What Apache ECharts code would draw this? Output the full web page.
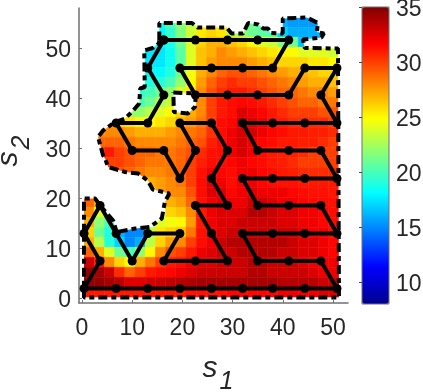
<!DOCTYPE html>
<html>
<head>
<meta charset="utf-8">
<style>html,body{margin:0;padding:0;background:#fff}#main{width:423px;height:392px}</style>
<script src="https://cdn.jsdelivr.net/npm/echarts@6/dist/echarts.min.js"></script>
</head>
<body>
<div id="main"></div>
<script>
var n = null;
// cell centres
var s1Values = [1.42,3.45,5.48,7.51,9.54,11.58,13.61,15.64,17.67,19.7,21.74,23.77,25.8,27.83,29.86,31.9,33.93,35.96,37.99,40.02,42.06,44.09,46.12,48.15,50.18];
var s2Values = [55.14,53.14,51.14,49.14,47.14,45.14,43.14,41.14,39.14,37.14,35.14,33.14,31.14,29.14,27.14,25.14,23.14,21.14,19.14,17.14,15.14,13.14,11.14,9.14,7.14,5.14,3.14,1.14];
// one row per s2 value, top first
var zRows = [
[n,n,n,n,n,n,n,18.5,20,22,23,24,n,n,n,n,21,20.5,n,16,15.5,15.5,15.5,n,n],
[n,n,n,n,n,n,n,18,19.5,21.5,23.5,25.5,26,25.5,23,22,21,20.5,20,17,16,16,16,16,n],
[n,n,n,n,n,n,17.5,18,18.8,21,24,26,27,27,26.5,26,25,24,23.5,21.5,21,16.5,16.5,16.5,n],
[n,n,n,n,n,n,17.5,17.5,18.5,20.5,24,26.5,27,28,27.5,27,26.5,26,25.5,25,25,24,24,24,23.5],
[n,n,n,n,n,n,17.5,17.5,18.5,20.5,24,26.5,27.5,28,28,28,27.5,27,26.5,26,26,26,25.5,25.5,25],
[n,n,n,n,n,n,18,18,19,21,24.5,27,28,29,29.5,29.5,29,28.5,28,27.5,27,27,26.5,26,26],
[n,n,n,n,n,n,19,19,20,22,25,27.5,29,30,30.5,30,30,29.5,29,28.5,28,27.5,27,27,26.5],
[n,n,n,n,n,19.5,20,21,22,24,25.5,28,29.5,30.5,31,31,30.5,30,29.5,29,29,28.5,28,28,27.5],
[n,n,n,n,n,20,21,22.5,23.5,n,n,28,30,31,31.3,31.5,31.3,31,30.5,30,29.5,29,29,28.5,28.5],
[n,n,n,n,22,22,23,24,25,26,27,28,30,31,31.3,32.5,32,31.5,31,30.5,30,30,30,29.5,29.5],
[n,n,27,26,25.5,25,25,25.5,26,27,27.5,28.5,30,31.3,31.5,33,32.5,32,31.3,31,30.5,30.5,30.5,30.5,30],
[n,28,28,28,27.5,27,27,27,27.5,28,28.5,29,30.3,31.3,32,32.7,32.7,32,31.5,31.3,31,31,30.8,30.8,30.5],
[n,29,29,29,28.5,28,28,28,28,28.5,29,29.5,30.8,31.3,32,32.7,32,31.5,31.3,31,31,30.8,30.8,30.5,30],
[n,30,31,30,29.5,29,29,28.5,28.5,29,29.5,30.5,31.2,31.3,32,32.7,32,31.3,31,30.8,30.8,30.5,30,30,30],
[n,n,30,30,29.5,29,28.5,28.5,28.5,29,30,30.8,31.3,31.3,31.5,32,31.5,31.3,31,30.8,30.5,30,30,30,30],
[n,n,30,29.5,29,28.5,28,28,28.5,29,30,31.2,32,31.5,31.3,32,32,31.5,31.3,31,30.8,30.5,30.5,30.5,30.5],
[n,n,n,n,n,n,27,27.5,28,28.5,30,31.3,32.5,32,31.3,32,32,31.5,31.3,31.2,31.2,31,31,31,31],
[n,n,n,n,n,n,n,27.5,28,28,29.5,31.3,32.5,32.5,31.5,32,32.5,32,32,32,31.5,31.3,31.2,31.2,31],
[29,27,n,n,n,n,n,n,27,27.5,29,31.2,32,32.5,32,32,33,33,32.5,32,32,31.5,31.3,31.3,31.2],
[28,24,23,n,n,n,n,n,26,26.5,28,31,32,32.5,32.5,32.5,33.6,33.6,33,32.5,32.5,32,32,31.5,31.3],
[27,22,20,18,n,n,n,24,24.5,25,27.5,31,32,32.5,32.5,33,33,33,33,32.5,32.5,32,32,31.5,31.3],
[26,21,19,16,15,15,23,25.5,26,26.5,28.5,31.2,32,32.5,33,33,33,33,33,33,33,32.5,32,32,31.3],
[27,23,19,17,15,16,23,26,27.5,28,30,31.3,32,33,33.6,33.6,33.6,33.6,33.6,33.6,33,32.5,32.5,32,31.5],
[29,27,24,21,20,22,25,28,29.5,30,31,32,32.5,33,33,33.6,33.6,33.6,33.6,33,33,32.5,32.5,32,31.5],
[33,31,28,26,25,27,28.5,30,31,31.3,32,32.5,32.5,33,33,33,33.6,33.6,33,33,33,32.5,32,32,32],
[34.5,34,33,30.5,29,30,31,31.3,31.5,32,32.5,33,33,33,33,33,33.6,33.6,33,33,33,33,32.5,32,32],
[34.5,34.5,34,33.5,32.5,32.5,32.7,33,33.3,33.5,33.8,34,34,34,34,34,34,34,34,33.6,33.5,33.5,33.5,33,33],
[31,31,31,31,31,31,31,31,31,31,31.2,31.2,31.2,31.2,31.5,31.5,31.5,31.5,31.5,32,32,32,32,32.5,32.5]
];
var pathPoints = [
[16.3,51.6],[22.6,51.6],[29,51.6],[35,51.6],[41.2,51.6],[38,46],[32,46],[25.8,46],[19.5,46],
[22.6,40.6],[29,40.6],[35,40.6],[41.2,40.6],[44.4,46],[50.8,46],[47.6,40.6],[50.8,35],[44.4,35],[38,35],[32,35],
[35,29.5],[41.2,29.5],[47.6,29.5],[50.8,23.9],[44.4,23.9],[38,23.9],[32,23.9],
[35,18.5],[41.2,18.5],[47.6,18.5],[50.8,12.9],[44.4,12.9],[38,12.9],[32,12.9],
[35,7.4],[41.2,7.4],[47.6,7.4],[50.8,1.9],[44.4,1.9],[38,1.9],[32,1.9],[25.8,1.9],[19.5,1.9],[13.1,1.9],[6.8,1.9],[0.4,1.9],
[3.6,7.4],[0.4,12.9],[3.6,18.5],[6.8,12.9],[10,7.4],[13.1,12.9],[19.5,12.9],[16.3,7.4],[22.6,7.4],[29,7.4],[25.8,12.9],[22.6,18.5],[29,18.5],[25.8,23.9],[29,29.5],[25.8,35],[19.5,35],[22.6,29.5],[19.5,23.9],[16.3,29.5],[10,29.5],[6.8,35],[13.1,35],[16.3,40.6],[13.1,46],[16.3,51.6]
];
var outline = [
[15.4,51.5],[15.4,55],[21.9,55],[23,54.1],[28.8,54.1],[29.8,52.9],[32.1,52.9],[33.1,55],[35.1,54.7],[36.1,53.9],[37.1,53.9],[37.5,53],[40,52.9],[40,55.9],[44.8,56.1],[47,55],[46.8,53.2],[48.2,52.9],[47.7,52.1],[44,51.7],[44.4,50],[51,49.9],[51.2,0.1],[0.4,0.1],[0.4,19.9],[2.6,19.9],[3.6,18.5],[6.2,15.5],[6.9,13.2],[10.6,13.9],[13.5,14.2],[15.9,15.9],[16.5,19.2],[17.4,20.9],[14.1,21.7],[13.1,23.5],[11.2,24.9],[8.6,25.2],[5.2,26.2],[4.6,27.9],[4.2,28.5],[3.2,32.2],[4.2,33.5],[6.6,35.2],[8.6,35.9],[10.2,37.5],[11.4,38.9],[11.6,41.9],[12.5,42.2],[12.4,49.5],[14.1,50],[15.3,50.9],[15.4,51.5]
];
var holeOutline = [[18.2,41.1],[22.7,40.9],[22.5,38.2],[21.1,36.9],[18.3,37.2],[18.2,41.1]];
var s1Ticks = [0,10,20,30,40,50];
var s2Ticks = [0,10,20,30,40,50];
var barTicks = [10,15,20,25,30,35];
var jet = ['#00008f','#0000ff','#0080ff','#00ffff','#80ff80','#ffff00','#ff8000','#ff0000','#800000'];

var cells = [];
zRows.forEach(function (row, j) {
	row.forEach(function (z, i) {
		if (z !== null) cells.push([s1Values[i], s2Values[j], z]);
	});
});

var fontName = 'Liberation Sans';
var textColor = '#262626';
var axisColor = '#707070';
var nameStyle = {
	padding: [0, 0, 0, 9],
	rich: {
		a: { fontFamily: fontName, fontStyle: 'italic', fontSize: 30, color: textColor },
		b: { fontFamily: fontName, fontStyle: 'italic', fontSize: 25, color: textColor, padding: [27, 0, 0, 2] }
	}
};

function lineSeries(data, style, symbolSize) {
	return {
		type: 'line', data: data, silent: true, animation: false,
		symbol: symbolSize ? 'circle' : 'none', symbolSize: symbolSize, showSymbol: !!symbolSize,
		itemStyle: { color: '#000' }, lineStyle: style, z: symbolSize ? 5 : 4, clip: false
	};
}

var chart = echarts.init(document.getElementById('main'), null, { renderer: 'canvas' });
chart.setOption({
	animation: false,
	backgroundColor: '#fff',
	grid: [
		{ left: 79, top: 8, width: 269, height: 295, outerBoundsMode: 'none' },
		{ left: 362, top: 7, width: 27, height: 297, outerBoundsMode: 'none', show: true, borderColor: axisColor, borderWidth: 1, backgroundColor: 'transparent', z: 10 }
	],
	xAxis: [{
		type: 'value', min: -0.6, max: 53,
		name: '{a|s}{b|1}', nameLocation: 'middle', nameGap: 40,
		nameTextStyle: nameStyle,
		axisLine: { onZero: false, lineStyle: { color: axisColor, width: 1.5 } },
		axisTick: { inside: true, length: 3, customValues: s1Ticks, lineStyle: { color: axisColor } },
		axisLabel: { customValues: s1Ticks, fontFamily: fontName, fontSize: 23, color: textColor, margin: 14 },
		splitLine: { show: false }
	}, {
		gridIndex: 1, type: 'value', min: 0, max: 1, show: false
	}],
	yAxis: [{
		type: 'value', min: -1, max: 58,
		name: '{a|s}{b|2}', nameLocation: 'middle', nameGap: 44, nameRotate: 90,
		nameTextStyle: nameStyle,
		axisLine: { onZero: false, lineStyle: { color: axisColor, width: 1.5 } },
		axisTick: { inside: true, length: 3, customValues: s2Ticks, lineStyle: { color: axisColor } },
		axisLabel: { customValues: s2Ticks, fontFamily: fontName, fontSize: 23, color: textColor, margin: 8, verticalAlign: 'top', lineHeight: 6 },
		splitLine: { show: false }
	}, {
		gridIndex: 1, type: 'value', position: 'right', min: 8, max: 35, z: 10,
		axisLine: { show: false },
		axisTick: { show: true, inside: true, length: 3, customValues: barTicks, lineStyle: { color: '#444' } },
		axisLabel: { customValues: barTicks, fontFamily: fontName, fontSize: 23, color: textColor, margin: 7, verticalAlign: 'top', lineHeight: 6 },
		splitLine: { show: false }
	}],
	visualMap: {
		type: 'continuous', min: 8, max: 35, dimension: 2, seriesIndex: 0,
		left: 362, top: 7, itemWidth: 27, itemHeight: 297, padding: 0,
		calculable: false, realtime: false, hoverLink: false, text: null, showLabel: false,
		inRange: { color: jet }
	},
	tooltip: { show: false },
	series: [{
		type: 'custom', data: cells, encode: { x: 0, y: 1 }, silent: true, progressive: 0, clip: false, z: 1,
		renderItem: function (params, api) {
			var a = api.coord([api.value(0) - 1.016, api.value(1) + 1]);
			var b = api.coord([api.value(0) + 1.016, api.value(1) - 1]);
			var c = api.visual('color');
			return {
				type: 'rect',
				shape: { x: a[0], y: a[1], width: b[0] - a[0], height: b[1] - a[1] },
				style: { fill: c, stroke: c, lineWidth: 0.5 },
				// cells stop at the dash-dot outline
				clipPath: { type: 'polygon', shape: { points: outline.map(function (p) { return api.coord(p); }) } }
			};
		}
	}, {
		type: 'custom', data: [[0, 0]], encode: { x: 0, y: 1 }, silent: true, clip: false, z: 2,
		renderItem: function (params, api) {
			return {
				type: 'polygon',
				shape: { points: holeOutline.map(function (p) { return api.coord(p); }) },
				style: { fill: '#fff' }
			};
		}
	},
	lineSeries(outline, { color: '#000', width: 4, type: [9, 4, 5, 4] }),
	lineSeries(holeOutline, { color: '#000', width: 4, type: [9, 4, 5, 4] }),
	lineSeries(pathPoints, { color: '#000', width: 4 }, 9)
	]
});
</script>
</body>
</html>
